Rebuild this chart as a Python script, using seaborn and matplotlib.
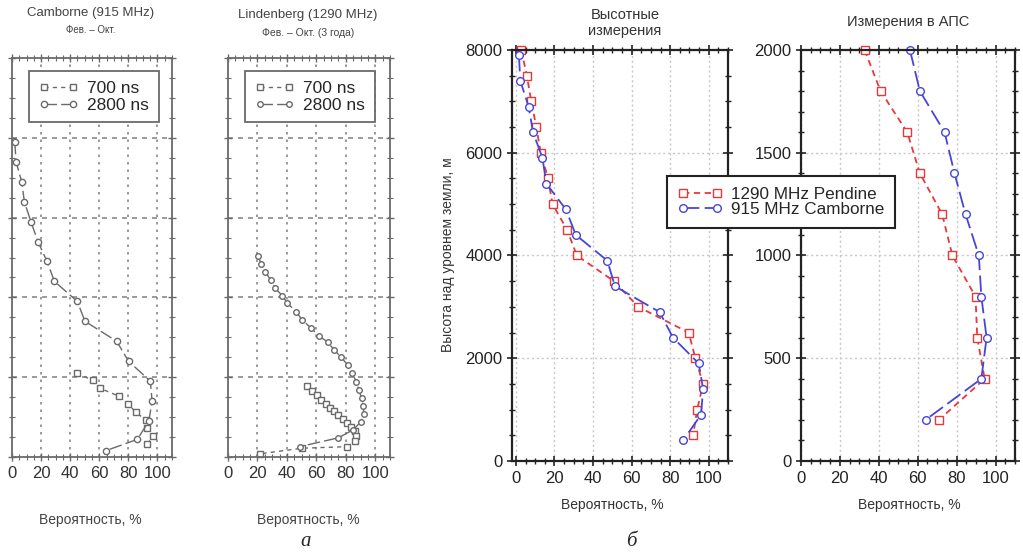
import numpy as np
import pandas as pd
import matplotlib
matplotlib.use('Agg')
import matplotlib.pyplot as plt
import seaborn as sns
from matplotlib.ticker import MultipleLocator, NullFormatter

sns.set_style('white')
plt.rcParams['font.family'] = ['Liberation Sans', 'DejaVu Sans']
plt.rcParams['legend.numpoints'] = 2

# Camborne (915 MHz), Feb - Oct
cam_700_x = [44.4, 56.0, 60.6, 73.8, 79.7, 85.4, 91.9, 93.1, 97.0, 93.1]
cam_700_h = [525, 480, 430, 380, 330, 280, 230, 180, 130, 80]
cam_2800_x = [1.9, 2.8, 6.7, 8.5, 13.0, 17.8, 24.1, 29.2, 44.9, 50.2, 72.0, 80.1,
              95.1, 96.3, 94.1, 86.1, 64.6]
cam_2800_h = [1975, 1850, 1725, 1600, 1475, 1350, 1225, 1100, 975, 850, 725, 600,
              475, 350, 225, 110, 40]

# Lindenberg (1290 MHz), Feb - Oct, 3 years
lin_700_x = [53.8, 57.2, 60.2, 63.4, 66.4, 69.4, 72.2, 74.9, 78.0, 81.0, 83.7, 86.0,
             87.2, 86.5, 81.0, 50.3, 21.5]
lin_700_h = [445, 415, 390, 360, 335, 310, 290, 265, 235, 210, 185, 160,
             130, 100, 65, 55, 20]
lin_2800_x = [20.3, 22.6, 25.4, 28.9, 31.8, 36.9, 40.3, 46.2, 50.3, 56.1, 61.8, 67.6,
              72.2, 76.8, 81.5, 84.2, 87.2, 88.8, 90.7, 91.8, 92.2, 90.2, 84.9, 74.9, 48.7]
lin_2800_h = [1260, 1210, 1160, 1110, 1060, 1010, 965, 910, 860, 810, 760, 720,
              670, 625, 575, 525, 470, 420, 370, 320, 270, 220, 170, 120, 65]

# high-altitude measurements
pen_x = [2.8, 5.7, 8.0, 10.6, 12.9, 16.7, 19.0, 26.6, 31.6, 50.9, 63.5, 89.6,
         93.1, 97.1, 94.0, 91.9]
pen_h = [8000, 7500, 7000, 6500, 6000, 5500, 5000, 4500, 4000, 3500, 3000, 2500,
         2000, 1500, 1000, 500]
cmb_x = [1.6, 2.3, 6.6, 8.9, 13.8, 15.8, 25.9, 31.1, 47.4, 51.4, 74.5, 81.5,
         94.8, 97.1, 96.0, 86.7]
cmb_h = [7900, 7400, 6900, 6400, 5900, 5400, 4900, 4400, 3900, 3400, 2900, 2400,
         1900, 1400, 900, 400]

# boundary layer (АПС)
aps_h = [2000, 1800, 1600, 1400, 1200, 1000, 800, 600, 400, 200]
aps_pen_x = [32.7, 40.9, 54.6, 61.1, 72.6, 77.8, 89.7, 90.6, 94.4, 70.9]
aps_cmb_x = [56.0, 61.1, 73.8, 78.9, 84.6, 91.4, 92.7, 95.4, 92.7, 64.0]

W, H = 1023, 558
fig = plt.figure(figsize=(W / 100, H / 100), dpi=100)


def px_axes(l, t, r, b):
    return fig.add_axes([l / W, 1 - b / H, (r - l) / W, (b - t) / H])


def ftext(x, y, s, **kw):
    fig.text(x / W, 1 - y / H, s, ha='center', va='center', **kw)


grey = '#6a6a6a'
red = '#e8383a'
blue = '#4646d6'


def draw(ax, x, y, color, marker, ls, label, ms=5.5, lw=1.0):
    sns.lineplot(x=x, y=y, ax=ax, sort=False, estimator=None, errorbar=None,
                 color=color, marker=marker, markersize=ms, markerfacecolor='white',
                 markeredgecolor=color, markeredgewidth=1.0, linestyle=ls,
                 linewidth=lw, label=label, clip_on=False)


# ---- left panels (scanned grey style) ----
def style_grey(ax):
    ax.set_xlim(0, 110)
    ax.set_ylim(0, 2500)
    ax.xaxis.set_major_locator(MultipleLocator(20))
    ax.xaxis.set_minor_locator(MultipleLocator(5))
    ax.yaxis.set_major_locator(MultipleLocator(500))
    ax.yaxis.set_minor_locator(MultipleLocator(125))
    ax.yaxis.set_major_formatter(NullFormatter())
    ax.tick_params(which='both', direction='inout', top=True, right=True,
                   left=True, bottom=True, color=grey, labelsize=12,
                   labelcolor='#333333')
    ax.tick_params(which='major', length=6, width=1)
    ax.tick_params(which='minor', length=4, width=0.8)
    ax.grid(False)
    for v in [20, 40, 60, 80, 100]:
        ax.axvline(v, color='#8a8a8a', ls=(0, (1.5, 3)), lw=1.2, zorder=0)
    for v in [500, 1000, 1500, 2000]:
        ax.axhline(v, color='#8a8a8a', ls=(0, (3, 3)), lw=1.2, zorder=0)
    for s in ax.spines.values():
        s.set_color(grey)
        s.set_linewidth(1.3)
    ax.set_xlabel('')
    ax.set_ylabel('')


leg_grey = dict(bbox_transform=fig.transFigure, loc='upper left', fontsize=12.5,
                frameon=True, fancybox=False, edgecolor=grey, framealpha=1,
                handlelength=2.3, handletextpad=0.5, borderpad=0.55,
                labelspacing=0.1, borderaxespad=0)

ax1 = px_axes(12, 58, 172, 457)
draw(ax1, cam_700_x, cam_700_h, grey, 's', (0, (3, 3)), '700 ns', ms=4.5)
draw(ax1, cam_2800_x, cam_2800_h, grey, 'o', (0, (9, 3)), '2800 ns', ms=4.5)
style_grey(ax1)
ax1.legend(bbox_to_anchor=(29 / W, 1 - 71 / H), **leg_grey)
ax1.get_legend().get_frame().set_linewidth(1.3)

ax2 = px_axes(228, 58, 390, 457)
draw(ax2, lin_700_x, lin_700_h, grey, 's', (0, (3, 3)), '700 ns', ms=4)
draw(ax2, lin_2800_x, lin_2800_h, grey, 'o', (0, (9, 3)), '2800 ns', ms=4)
style_grey(ax2)
ax2.legend(bbox_to_anchor=(245 / W, 1 - 71 / H), **leg_grey)
ax2.get_legend().get_frame().set_linewidth(1.3)


# ---- right panels ----
def style_color(ax, xmin, ymax, ymaj, ymin_step):
    ax.set_xlim(xmin, 110)
    ax.set_ylim(0, ymax)
    ax.xaxis.set_major_locator(MultipleLocator(20))
    ax.xaxis.set_minor_locator(MultipleLocator(5))
    ax.yaxis.set_major_locator(MultipleLocator(ymaj))
    ax.yaxis.set_minor_locator(MultipleLocator(ymin_step))
    ax.tick_params(which='both', direction='inout', top=True, right=True,
                   left=True, bottom=True, color='#222222', labelsize=12,
                   labelcolor='#222222')
    ax.tick_params(which='major', length=7, width=1.2)
    ax.tick_params(which='minor', length=4, width=1.0)
    ax.grid(True, which='major', color='#c8c8c8', ls=(0, (1.5, 2)), lw=1.0)
    for s in ax.spines.values():
        s.set_color('#222222')
        s.set_linewidth(1.6)
    ax.set_xlabel('')
    ax.set_ylabel('')
    if ax.get_legend():
        ax.get_legend().remove()


ax3 = px_axes(512, 50, 728, 461)
draw(ax3, pen_x, pen_h, red, 's', (0, (3.5, 2.5)), '1290 MHz Pendine', ms=5.5, lw=1.3)
draw(ax3, cmb_x, cmb_h, blue, 'o', (0, (9, 3)), '915 MHz Camborne', ms=5.5, lw=1.3)
style_color(ax3, -2, 8000, 2000, 500)
handles, labels = ax3.get_legend_handles_labels()

ax4 = px_axes(801, 50, 1015, 461)
draw(ax4, aps_pen_x, aps_h, red, 's', (0, (3.5, 2.5)), '1290 MHz Pendine', ms=5.5, lw=1.3)
draw(ax4, aps_cmb_x, aps_h, blue, 'o', (0, (9, 3)), '915 MHz Camborne', ms=5.5, lw=1.3)
style_color(ax4, 0, 2000, 500, 100)

leg = fig.legend(handles, labels, loc='upper left', bbox_to_anchor=(667 / W, 1 - 176 / H),
                 fontsize=12.3, frameon=True, fancybox=False, edgecolor='#222222',
                 framealpha=1, handlelength=2.6, handletextpad=0.5, borderpad=0.62,
                 labelspacing=0.05, borderaxespad=0)
leg.get_frame().set_linewidth(1.5)

# ---- texts ----
ftext(91, 13, 'Camborne (915 MHz)', fontsize=9.5, color='#444444')
ftext(91, 30, 'Фев. – Окт.', fontsize=7, color='#444444')
ftext(308, 15, 'Lindenberg (1290 MHz)', fontsize=9.5, color='#444444')
ftext(308, 33, 'Фев. – Окт. (3 года)', fontsize=7.5, color='#444444')
ftext(625, 23, 'Высотные\nизмерения', fontsize=10.5, color='#333333', linespacing=1.25)
ftext(908, 22, 'Измерения в АПС', fontsize=10.5, color='#333333')
ftext(90, 520, 'Вероятность, %', fontsize=10, color='#444444')
ftext(308, 520, 'Вероятность, %', fontsize=10, color='#444444')
ftext(612, 505, 'Вероятность, %', fontsize=10, color='#333333')
ftext(909, 505, 'Вероятность, %', fontsize=10, color='#333333')
ftext(448, 255, 'Высота над уровнем земли, м', fontsize=10, color='#333333', rotation=90)
ftext(306, 541, 'а', fontsize=15, style='italic', family=['Liberation Serif', 'DejaVu Serif'])
ftext(631, 541, 'б', fontsize=15, style='italic', family=['Liberation Serif', 'DejaVu Serif'])

fig.savefig('out.png', dpi=100)
